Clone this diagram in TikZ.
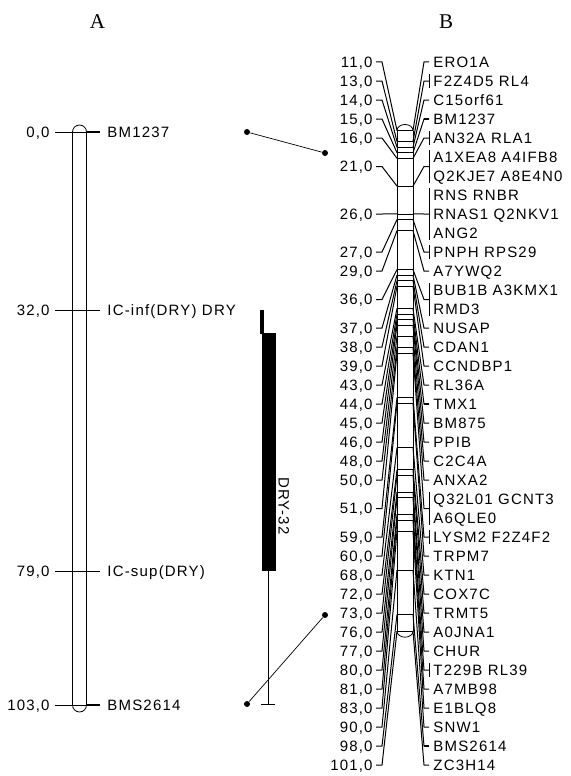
\documentclass[tikz,border=0pt]{standalone}
\usepackage{fontspec}
\newfontfamily\lblfont[LetterSpace=8]{Liberation Sans}
\newfontfamily\ttlfont{Liberation Serif}

\begin{document}
\begin{tikzpicture}[
    x=1pt, y=-1pt,
    line width=0.8pt,
    every node/.style={inner sep=0pt},
    lbl/.style={font=\lblfont\fontsize{15}{17}\selectfont, text height=10.7pt, text depth=0pt},
    ttl/.style={font=\ttlfont\fontsize{21}{24}\selectfont},
    dot/.style={circle, fill=black, minimum size=6pt},
    thickmark/.style={line width=2.2pt},
    fan/.style={line width=1pt}
]
\useasboundingbox (0,0) rectangle (570,776);

% titles
\node[ttl] (ttlA) at (97.5,22) {A};
\node[ttl] (ttlB) at (446,22) {B};

% chromosome A
\draw (72.5,132) -- (72.5,705);
\draw (86.5,132) -- (86.5,705);
\draw (72.5,132) arc[start angle=180, end angle=0, x radius=7pt, y radius=7pt];
\draw (72.5,705) arc[start angle=180, end angle=360, x radius=7pt, y radius=7pt];

\node[lbl, anchor=east] (an0) at (50,132) {0,0};
\node[lbl, anchor=west] (am0) at (107,132) {BM1237};
\coordinate (ar0) at (86.5,132);
\draw ([xshift=5pt]an0.east) -- (ar0);
\draw[thickmark] (ar0) -- ([xshift=-7pt]am0.west);

\node[lbl, anchor=east] (an32) at (50,310) {32,0};
\node[lbl, anchor=west] (am32) at (107,310) {IC-inf(DRY) DRY};
\draw ([xshift=5pt]an32.east) -- ([xshift=-7pt]am32.west);

\node[lbl, anchor=east] (an79) at (50,571) {79,0};
\node[lbl, anchor=west] (am79) at (107,571) {IC-sup(DRY)};
\draw ([xshift=5pt]an79.east) -- ([xshift=-7pt]am79.west);

\node[lbl, anchor=east] (an103) at (50,705) {103,0};
\node[lbl, anchor=west] (am103) at (107,705) {BMS2614};
\coordinate (ar103) at (86.5,705);
\draw ([xshift=5pt]an103.east) -- (ar103);
\draw[thickmark] (ar103) -- ([xshift=-7pt]am103.west);

% QTL DRY-32
\fill (259.5,310) rectangle (263.5,334);
\fill (262,333) rectangle (276,571);
\coordinate (qtop) at (268,571);
\coordinate (qend) at (268,704);
\draw (qtop) -- (qend);
\draw ([xshift=-7pt]qend) -- ([xshift=7pt]qend);
\node[lbl, rotate=-90] (qlbl) at (284,506) {DRY-32};

% links between maps
\node[dot] (dA1) at (247,132) {};
\node[dot] (dB1) at (325,153) {};
\draw[line width=0.7pt] (dA1) -- (dB1);
\node[dot] (dA2) at (247,704) {};
\node[dot] (dB2) at (325,615) {};
\draw[line width=0.7pt] (dA2) -- (dB2);

% chromosome B
\draw (397,130.5) -- (397,631.2);
\draw (413,130.5) -- (413,631.2);
\draw (397,130.5) arc[start angle=180, end angle=0, x radius=8pt, y radius=6pt];
\draw (397,631.2) arc[start angle=180, end angle=360, x radius=8pt, y radius=6pt];

% left side of B: position / label row
\foreach \c/\r in {11/0, 13/1, 14/2, 15/3, 16/4, 21/5.5, 26/8, 27/10, 29/11, 36/12.5,
    37/14, 38/15, 39/16, 43/17, 44/18, 45/19, 46/20, 48/21, 50/22, 51/23.5, 59/25,
    60/26, 68/27, 72/28, 73/29, 76/30, 77/31, 80/32, 81/33, 83/34, 90/35, 98/36, 101/37}{
  \pgfmathsetmacro{\yl}{62+19*\r}
  \pgfmathsetmacro{\yp}{130.5+5.563*(\c-11)}
  \node[lbl, anchor=east] (bn\c) at (373,\yl) {\c,0};
  \coordinate (bl\c) at (397,\yp);
  \coordinate (br\c) at (413,\yp);
  \draw[fan] ([xshift=3pt]bn\c.east) -- ([xshift=9pt]bn\c.east) -- (bl\c);
  \draw (bl\c) -- (br\c);
}

% right side of B: position / label row / bracket half height
\foreach \c/\r/\h in {11/0/0, 13/1/7, 14/2/0, 15/3/0, 16/4/7, 21/5.5/16.5, 26/8/26,
    27/10/7, 29/11/0, 36/12.5/16.5, 37/14/0, 38/15/0, 39/16/0, 43/17/0, 44/18/0,
    45/19/0, 46/20/0, 48/21/0, 50/22/0, 51/23.5/16.5, 59/25/7, 60/26/0, 68/27/0,
    72/28/0, 73/29/0, 76/30/0, 77/31/0, 80/32/7, 81/33/0, 83/34/0, 90/35/0, 98/36/0, 101/37/0}{
  \pgfmathsetmacro{\yl}{62+19*\r}
  \coordinate (bt\c) at (424,\yl);
  \coordinate (bk\c) at (429,\yl);
  \draw[fan] (br\c) -- (bt\c) -- (bk\c);
  \ifdim\h pt>0pt
    \coordinate (bu\c) at (429,\yl-\h);
    \coordinate (bd\c) at (429,\yl+\h);
    \draw (bu\c) -- (bd\c);
  \fi
}
\draw[thickmark] (bt15) -- (bk15);
\draw[thickmark] (bt44) -- (bk44);
\draw[thickmark] (bt98) -- (bk98);

% marker names of B
\foreach \r/\t in {0/ERO1A, 1/F2Z4D5 RL4, 2/C15orf61, 3/BM1237, 4/AN32A RLA1,
    5/A1XEA8 A4IFB8, 6/Q2KJE7 A8E4N0, 7/RNS RNBR, 8/RNAS1 Q2NKV1, 9/ANG2,
    10/PNPH RPS29, 11/A7YWQ2, 12/BUB1B A3KMX1, 13/RMD3, 14/NUSAP, 15/CDAN1,
    16/CCNDBP1, 17/RL36A, 18/TMX1, 19/BM875, 20/PPIB, 21/C2C4A, 22/ANXA2,
    23/Q32L01 GCNT3, 24/A6QLE0, 25/LYSM2 F2Z4F2, 26/TRPM7, 27/KTN1, 28/COX7C,
    29/TRMT5, 30/A0JNA1, 31/CHUR, 32/T229B RL39, 33/A7MB98, 34/E1BLQ8, 35/SNW1,
    36/BMS2614, 37/ZC3H14}{
  \pgfmathsetmacro{\yl}{62+19*\r}
  \node[lbl, anchor=west] (bm\r) at (433,\yl) {\t};
}
\end{tikzpicture}
\end{document}
